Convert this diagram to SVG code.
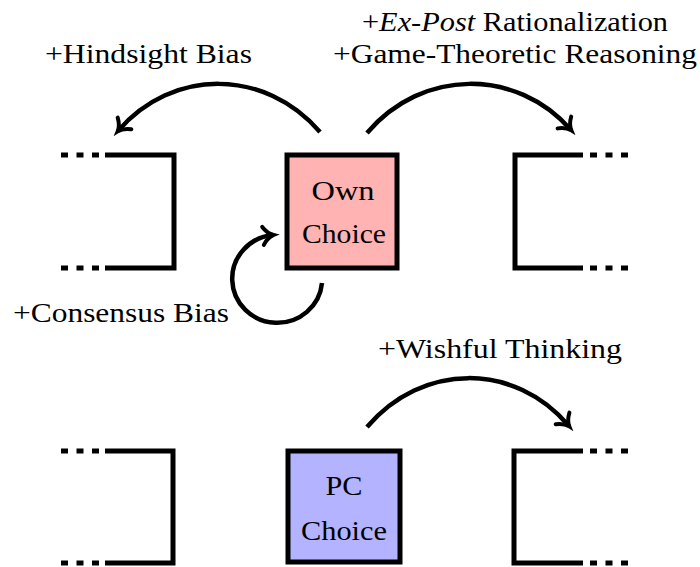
<svg xmlns="http://www.w3.org/2000/svg" width="700" height="567" viewBox="0 0 700 567">
<defs>
<style>
.t{font-size:28px;fill:#000}
.c{text-anchor:middle}
.br{fill:none;stroke:#000;stroke-width:5;stroke-linejoin:miter}
.dash{fill:none;stroke:#000;stroke-width:5;stroke-dasharray:7 8.5}
.box{stroke:#000;stroke-width:5}
.arr{fill:none;stroke:#000;stroke-width:4.5;marker-end:url(#tip)}
</style>
<marker id="tip" markerUnits="userSpaceOnUse" orient="auto" markerWidth="24" markerHeight="24" viewBox="-13 -12 16 24" refX="0" refY="0">
<path d="M-10,-9 C-6.5,-3.5 -2.5,-1 0.5,0 C-2.5,1 -6.5,3.5 -10,9" fill="none" stroke="#000" stroke-width="4" stroke-linecap="round"/>
</marker>
</defs>
<g font-family="'Liberation Serif', 'Times New Roman', 'DejaVu Serif', serif">
<g id="top-left">
<path class="br" d="M105,155 H174 V268 H105"/>
<path class="dash" d="M61,155 H104 M61,268 H104"/>
</g>
<g id="top-right">
<path class="br" d="M583,155 H515 V268 H583"/>
<path class="dash" d="M590,155 H629 M590,268 H629"/>
</g>
<g id="own">
<rect class="box" x="287" y="155" width="110" height="113" fill="#ffb3b3"/>
<text class="t c" x="343" y="200" textLength="63" lengthAdjust="spacingAndGlyphs">Own</text>
<text class="t c" x="344" y="243" textLength="84" lengthAdjust="spacingAndGlyphs">Choice</text>
</g>
<g id="bottom-left">
<path class="br" d="M105,451 H173 V563 H105"/>
<path class="dash" d="M61,451 H104 M61,563 H104"/>
</g>
<g id="bottom-right">
<path class="br" d="M583,451 H514 V563 H583"/>
<path class="dash" d="M590,451 H629 M590,563 H629"/>
</g>
<g id="pc">
<rect class="box" x="288" y="451" width="112" height="111" fill="#b3b3ff"/>
<text class="t c" x="344" y="495" textLength="37" lengthAdjust="spacingAndGlyphs">PC</text>
<text class="t c" x="344" y="540" textLength="86" lengthAdjust="spacingAndGlyphs">Choice</text>
</g>

<g id="connectors">
<path class="arr" d="M320,132 C265,68 172,68 118,131"/>
<path class="arr" d="M367,133 C422,68 517,68 571,130"/>
<path class="arr" d="M322,283 A45,44 0 1 1 273,235"/>
<path class="arr" d="M367,427 C422,362 515,362 569,426"/>
</g>

<g id="labels">
<text class="t" x="45" y="63" textLength="207" lengthAdjust="spacingAndGlyphs">+Hindsight Bias</text>
<text class="t" x="362" y="31" textLength="306" lengthAdjust="spacingAndGlyphs">+<tspan font-style="italic">Ex-Post</tspan> Rationalization</text>
<text class="t" x="333" y="63" textLength="364" lengthAdjust="spacingAndGlyphs">+Game-Theoretic Reasoning</text>
<text class="t" x="13" y="322" textLength="216" lengthAdjust="spacingAndGlyphs">+Consensus Bias</text>
<text class="t" x="378" y="358" textLength="244" lengthAdjust="spacingAndGlyphs">+Wishful Thinking</text>
</g>
</g>
</svg>
